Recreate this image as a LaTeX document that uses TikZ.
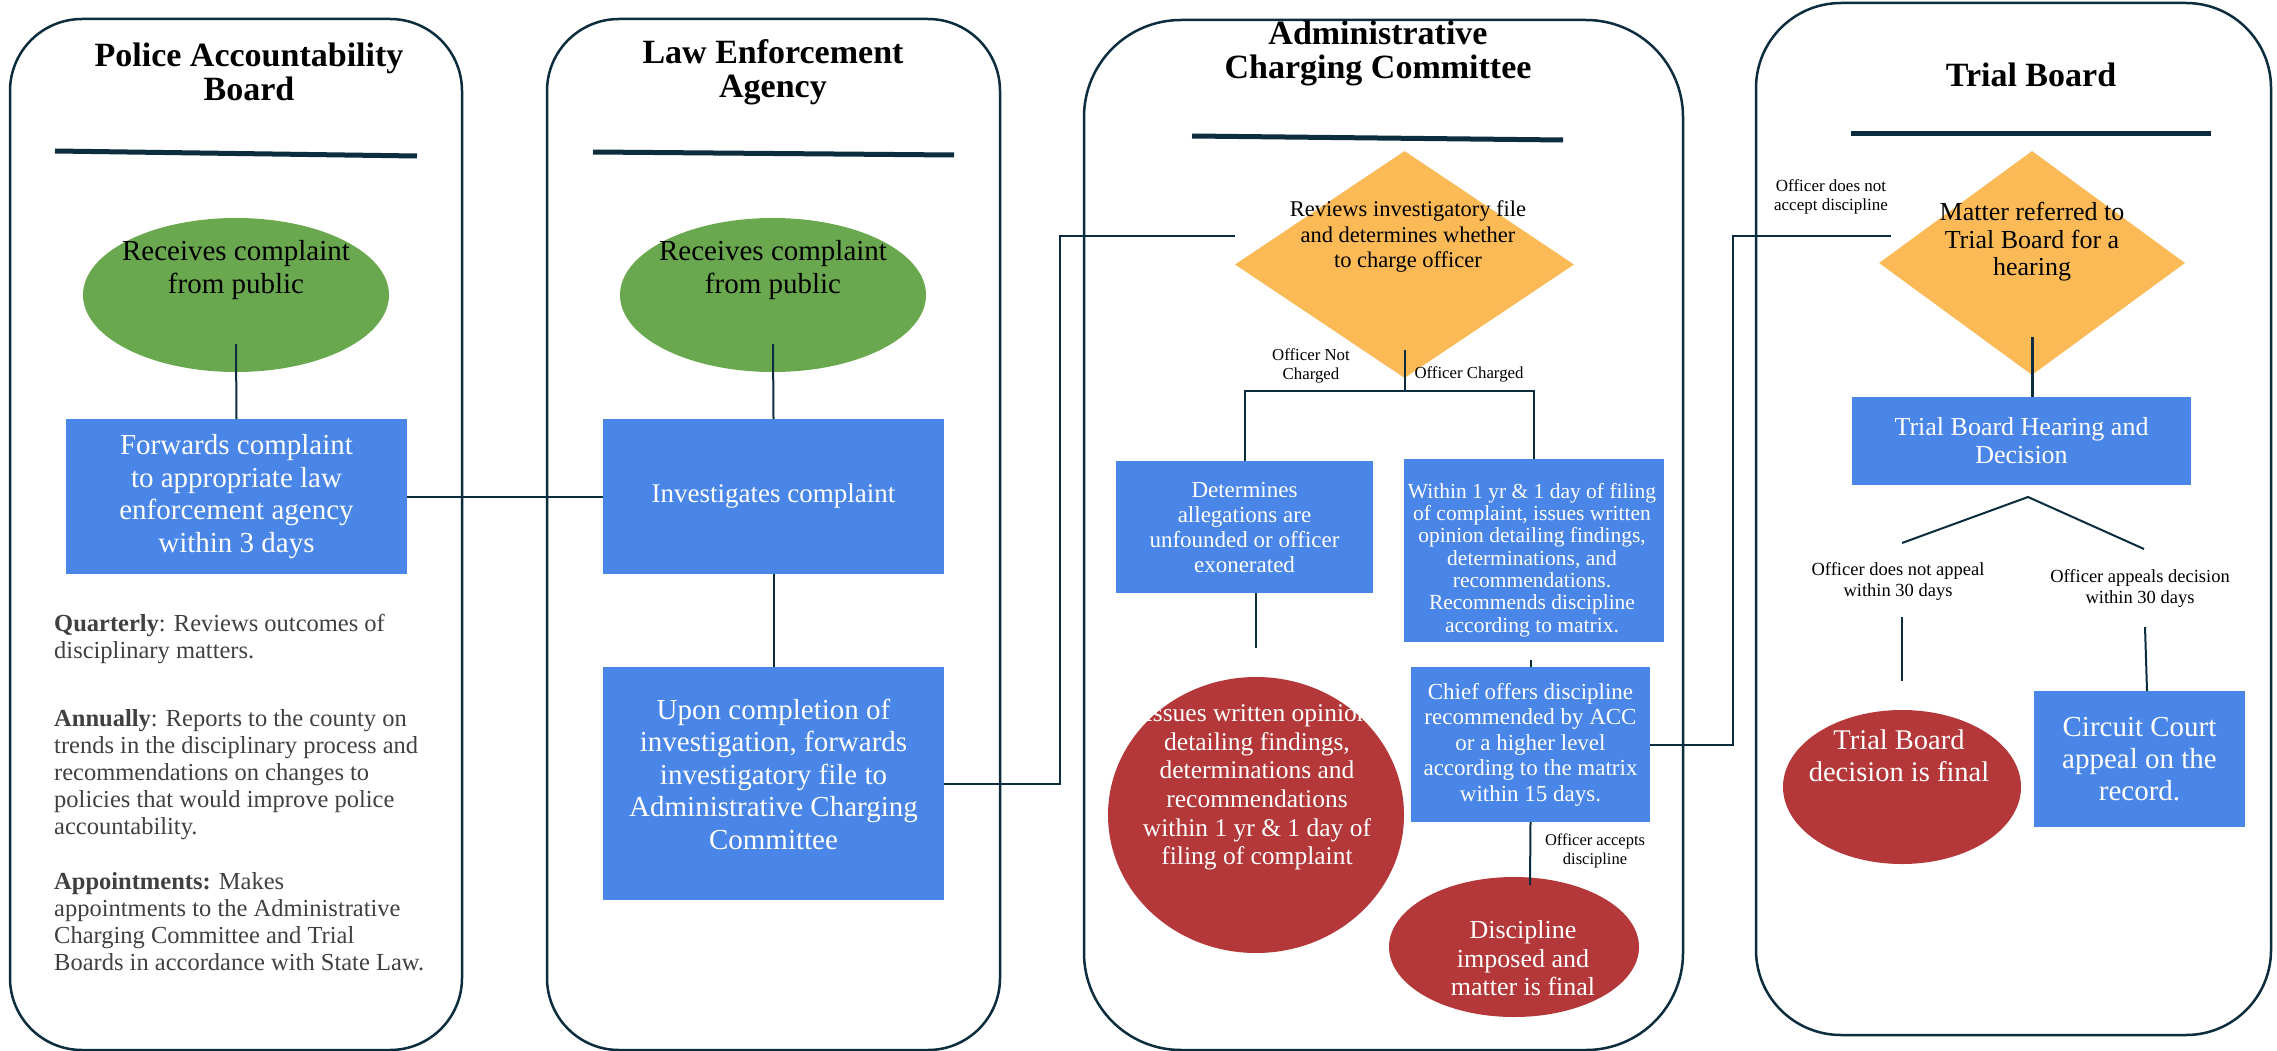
\documentclass[tikz,border=0pt]{standalone}
\usepackage{fontspec}
\setmainfont{Liberation Serif}[BoldFont={Liberation Serif Bold}]
\usetikzlibrary{shapes.geometric}
\definecolor{lanecol}{HTML}{0C2D3E}
\definecolor{boxblue}{HTML}{4A86E8}
\definecolor{grn}{HTML}{6AA84F}
\definecolor{org}{HTML}{FCBA57}
\definecolor{redc}{HTML}{B4383A}
\definecolor{graytext}{HTML}{404040}
\begin{document}
\begin{tikzpicture}[x=1pt,y=-1pt,
  lane/.style={draw=lanecol, line width=2.5pt},
  hrule/.style={draw=lanecol, line width=5pt},
  conn/.style={draw=lanecol, line width=2pt},
  bluebox/.style={rectangle, fill=boxblue, text=white, align=center, inner sep=0pt},
  grnell/.style={ellipse, fill=grn, inner sep=0pt},
  redell/.style={ellipse, fill=redc, inner sep=0pt},
  dia/.style={diamond, fill=org, inner sep=0pt},
  txt/.style={align=center, inner sep=0pt},
  title/.style={txt, font=\fontsize{34}{34}\selectfont\bfseries},
  small/.style={txt, font=\fontsize{17}{19}\selectfont},
]
\fill[white] (0,0) rectangle (2277,1051);
\useasboundingbox (0,0) rectangle (2277,1051);

% lanes
\draw[lane, rounded corners=72pt] (10,19) rectangle (462,1050);
\draw[lane, rounded corners=72pt] (547,19) rectangle (1000,1050);
\draw[lane, rounded corners=97pt] (1084,20) rectangle (1683,1050);
\draw[lane, rounded corners=85pt] (1756,3) rectangle (2271,1035);

% heading rules
\draw[hrule] (55,151) -- (417,156);
\draw[hrule] (593,152) -- (954,155);
\draw[hrule] (1192,136) -- (1563,140);
\draw[hrule] (1851,134) -- (2211,134);

% ---------- lane 1 : Police Accountability Board
\node[title] (pabT) at (249,72) {Police Accountability\\Board};
\node[grnell, minimum width=306pt, minimum height=154pt] (pabE) at (236,295) {};
\node[txt, font=\fontsize{29}{33}\selectfont] (pabEt) at (236,270) {Receives complaint\\from public};
\node[bluebox, minimum width=341pt, minimum height=155pt, font=\fontsize{29}{32.5}\selectfont] (pabB) at (236.5,496.5) {Forwards complaint\\to appropriate law\\enforcement agency\\within 3 days};
\node[inner sep=0pt, align=left, anchor=north west, text=graytext, font=\fontsize{24.5}{27}\selectfont] (pabN) at (54,614) {\textbf{Quarterly}: Reviews outcomes of\\disciplinary matters.\\[41pt]\textbf{Annually}: Reports to the county on\\trends in the disciplinary process and\\recommendations on changes to\\policies that would improve police\\accountability.\\[28pt]\textbf{Appointments:} Makes\\appointments to the Administrative\\Charging Committee and Trial\\Boards in accordance with State Law.};

% ---------- lane 2 : Law Enforcement Agency
\node[title] (leaT) at (773,72) {Law Enforcement\\Agency};
\node[grnell, minimum width=306pt, minimum height=154pt] (leaE) at (773,295) {};
\node[txt, font=\fontsize{29}{33}\selectfont] (leaEt) at (773,270) {Receives complaint\\from public};
\node[bluebox, minimum width=341pt, minimum height=155pt, font=\fontsize{27}{30}\selectfont] (leaB1) at (773.5,496.5) {Investigates complaint};
\node[bluebox, minimum width=341pt, minimum height=233pt] (leaB2) at (773.5,783.5) {};
\node[txt, text=white, font=\fontsize{29}{32.5}\selectfont] (leaB2t) at (773.5,774) {Upon completion of\\investigation, forwards\\investigatory file to\\Administrative Charging\\Committee};

% ---------- lane 3 : Administrative Charging Committee
\node[title] (accT) at (1378,53) {Administrative\\Charging Committee};
\node[dia, minimum width=339pt, minimum height=227pt] (accD) at (1404.5,264.5) {};
\node[txt, font=\fontsize{22.5}{25.5}\selectfont] (accDt) at (1408,237) {Reviews investigatory file\\and determines whether\\to charge officer};
\node[small, font=\fontsize{16.8}{19}\selectfont] (lNot) at (1311,365.5) {Officer Not\\Charged};
\node[small, font=\fontsize{16.8}{19}\selectfont] (lChg) at (1469,374) {Officer Charged};
\node[bluebox, minimum width=257pt, minimum height=132pt, font=\fontsize{23}{25}\selectfont] (det) at (1244.5,527) {Determines\\allegations are\\unfounded or officer\\exonerated};
\node[bluebox, minimum width=260pt, minimum height=183pt] (within) at (1534,550.5) {};
\node[txt, text=white, font=\fontsize{21.5}{22.3}\selectfont] (withint) at (1532,560) {Within 1 yr \& 1 day of filing\\of complaint, issues written\\opinion detailing findings,\\determinations, and\\recommendations.\\Recommends discipline\\according to matrix.};
\node[bluebox, minimum width=239pt, minimum height=155pt, font=\fontsize{23}{25.5}\selectfont] (chief) at (1530.5,744.5) {Chief offers discipline\\recommended by ACC\\or a higher level\\according to the matrix\\within 15 days.};
\node[redell, minimum width=296pt, minimum height=276pt] (circ) at (1256,815) {};
\node[txt, text=white, font=\fontsize{25.5}{28.6}\selectfont] (circt) at (1257,787.5) {Issues written opinion\\detailing findings,\\determinations and\\recommendations\\within 1 yr \& 1 day of\\filing of complaint};
\node[redell, minimum width=250pt, minimum height=140pt] (disc) at (1514,947) {};
\node[txt, text=white, font=\fontsize{26}{28.5}\selectfont] (disct) at (1523,958.5) {Discipline\\imposed and\\matter is final};
\node[small, font=\fontsize{16.5}{18.5}\selectfont] (lAcc) at (1595,851) {Officer accepts\\discipline};

% ---------- lane 4 : Trial Board
\node[title] (tbT) at (2031,75) {Trial Board};
\node[dia, minimum width=306pt, minimum height=224pt] (tbD) at (2032,263) {};
\node[txt, font=\fontsize{26}{27.5}\selectfont] (tbDt) at (2032,242) {Matter referred to\\Trial Board for a\\hearing};
\node[small] (lNoAcc) at (1831,196.5) {Officer does not\\accept discipline};
\node[bluebox, minimum width=339pt, minimum height=88pt, font=\fontsize{26}{28}\selectfont] (tbH) at (2021.5,441) {Trial Board Hearing and\\Decision};
\node[small, font=\fontsize{18.5}{21}\selectfont] (lNoApp) at (1898,581.5) {Officer does not appeal\\within 30 days};
\node[small, font=\fontsize{18.5}{21}\selectfont] (lApp) at (2140,588.5) {Officer appeals decision\\within 30 days};
\node[redell, minimum width=238pt, minimum height=154pt] (tbF) at (1902,787) {};
\node[txt, text=white, font=\fontsize{28.5}{32}\selectfont] (tbFt) at (1899,756) {Trial Board\\decision is final};
\node[bluebox, minimum width=211pt, minimum height=136pt, font=\fontsize{29}{32}\selectfont] (cc) at (2139.5,759) {Circuit Court\\appeal on the\\record.};

% ---------- connectors
\draw[conn] ([yshift=28pt]pabE.south) -- (pabB.north);
\draw[conn] (pabB.east) -- (leaB1.west);
\draw[conn] ([yshift=28pt]leaE.south) -- (leaB1.north);
\draw[conn] (leaB1.south) -- (leaB2.north);
\draw[conn] (leaB2.east) -- ++(116,0) |- ([yshift=29pt]accD.west);

\coordinate (split) at (1404.5,391);
\draw[conn] ([yshift=28pt]accD.south) -- (split);
\draw[conn] (det.north) |- (split) -| (within.north);
\draw[conn] (det.south -| circ.north) -- ([yshift=29pt]circ.north);
\draw[conn] ([yshift=7pt]chief.north) -- (chief.north);
\coordinate (discIn) at (1530,885);
\draw[conn] (chief.south) -- (discIn);
\draw[conn] (chief.east) -- ++(83,0) |- ([xshift=12pt,yshift=27pt]tbD.west);

\draw[conn, line width=3pt] ([yshift=38pt]tbD.south) -- (tbD.south |- tbH.north);
\coordinate (apex) at (2028,497);
\coordinate (vL) at (1902,543);
\coordinate (vR) at (2144,549);
\draw[conn] (vL) -- (apex) -- (vR);
\coordinate (dL) at (1902,617);
\draw[conn] (dL) -- ([yshift=29pt]tbF.north);
\coordinate (dR) at (2145,627);
\draw[conn] (dR) -- ([xshift=7.5pt]cc.north);
\end{tikzpicture}
\end{document}
